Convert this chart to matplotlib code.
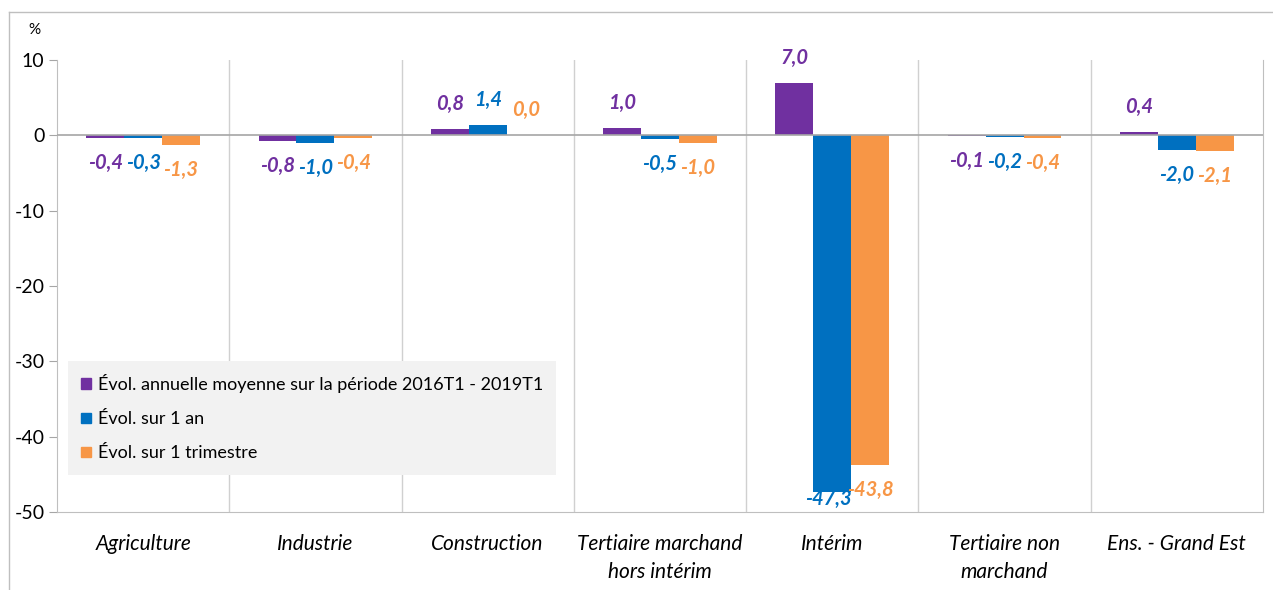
import matplotlib.pyplot as plt
from matplotlib.lines import Line2D
from matplotlib.patches import Patch

plt.rcParams['font.family'] = ['Lato', 'DejaVu Sans']
plt.rcParams['axes.unicode_minus'] = False

# données
secteurs = ["Agriculture", "Industrie", "Construction", "Tertiaire marchand\nhors intérim",
            "Intérim", "Tertiaire non\nmarchand", "Ens. - Grand Est"]
evol_moyenne = [-0.4, -0.8, 0.8, 1.0, 7.0, -0.1, 0.4]
evol_1an = [-0.3, -1.0, 1.4, -0.5, -47.3, -0.2, -2.0]
evol_trim = [-1.3, -0.4, 0.0, -1.0, -43.8, -0.4, -2.1]
noms = ["Évol. annuelle moyenne sur la période 2016T1 - 2019T1",
        "Évol. sur 1 an", "Évol. sur 1 trimestre"]
couleurs = ["#7030a0", "#0070c0", "#f79646"]
yticks = [10, 0, -10, -20, -30, -40, -50]

fig = plt.figure(figsize=(12.73, 5.9), dpi=100)
ax = fig.add_axes([57 / 1273, 78 / 590, 1206 / 1273, 452 / 590])

# cadre extérieur (gauche et haut)
fig.add_artist(Line2D([9 / 1273, 9 / 1273], [0, 1 - 12 / 590], color="#bfbfbf", lw=1))
fig.add_artist(Line2D([9 / 1273, 1], [1 - 12 / 590, 1 - 12 / 590], color="#bfbfbf", lw=1))

larg = 0.22
x = range(len(secteurs))
for k, (serie, c) in enumerate(zip([evol_moyenne, evol_1an, evol_trim], couleurs)):
    pos = [i + (k - 1) * larg for i in x]
    ax.bar(pos, serie, width=larg, color=c, zorder=3)
    for px, v in zip(pos, serie):
        txt = f"{v:.1f}".replace(".", ",")
        if v >= 0:
            ax.annotate(txt, (px, v), xytext=(0, 18), textcoords="offset points",
                        ha="center", va="center", color=c, fontsize=14.5,
                        fontweight="bold", fontstyle="italic")
        else:
            # étiquette ramenée dans la zone du graphique si la barre est trop longue
            dx = -3 if v < -45 else 0
            ax.annotate(txt, (px, max(v, -45)), xytext=(dx, -18), textcoords="offset points",
                        ha="center", va="center", color=c, fontsize=14.5,
                        fontweight="bold", fontstyle="italic")

ax.set_xlim(-0.5, len(secteurs) - 0.5)
ax.set_ylim(-50, 10)
ax.set_yticks(yticks)
ax.set_yticklabels([str(t) for t in yticks], fontsize=14)
ax.tick_params(axis="y", length=6, color="#a6a6a6", pad=3)
ax.set_xticks(list(x))
ax.set_xticklabels(secteurs, fontsize=15, fontstyle="italic", linespacing=1.5)
ax.tick_params(axis="x", length=0, pad=16)
ax.set_xticks([i + 0.5 for i in range(len(secteurs) - 1)], minor=True)
ax.tick_params(axis="x", which="minor", length=0)
ax.grid(axis="x", which="minor", color="#d0d0d0", lw=1, zorder=0)
ax.axhline(0, color="#a6a6a6", lw=1.2, zorder=4)

ax.spines["top"].set_visible(False)
for s in ["left", "right", "bottom"]:
    ax.spines[s].set_color("#bfbfbf")

fig.text(28 / 1273, 1 - 30 / 590, "%", fontsize=11, ha="left", va="center")

handles = [Patch(color=c) for c in couleurs]
leg = ax.legend(handles, noms, loc="lower left", bbox_to_anchor=(0.009, 0.082),
                borderaxespad=0, fontsize=13, frameon=True, facecolor="#f2f2f2",
                edgecolor="none", fancybox=False, framealpha=1, handlelength=0.55,
                handleheight=0.55, handletextpad=0.35, labelspacing=1.0, borderpad=0.75)
leg.set_zorder(5)

fig.savefig("out.png", dpi=100)
